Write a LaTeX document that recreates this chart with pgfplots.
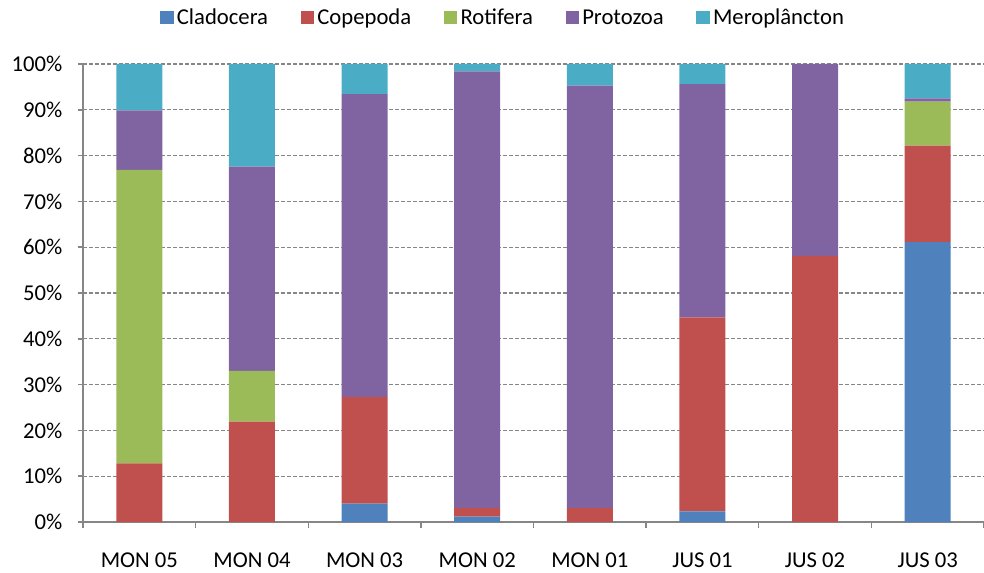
\documentclass[border=0pt]{standalone}
\usepackage{pgfplots}
\pgfplotsset{compat=1.18}
\usepackage{fontspec}
\setmainfont{Carlito}
\definecolor{cClad}{HTML}{4F81BD}
\definecolor{cCope}{HTML}{C0504D}
\definecolor{cRot}{HTML}{9BBB59}
\definecolor{cProt}{HTML}{8064A2}
\definecolor{cMero}{HTML}{4BACC6}
\definecolor{axgray}{HTML}{868686}
\begin{document}
\begin{tikzpicture}[font=\fontsize{17}{20}\selectfont]
\begin{axis}[
  scale only axis, width=675.75pt, height=343.5pt,
  ybar stacked, bar width=34.5pt,
  xmin=-0.5, xmax=7.5, ymin=0, ymax=100,
  axis lines=left,
  axis line style={-, draw=axgray, line width=1.1pt},
  xtick={0,...,7},
  xticklabels={MON 05,MON 04,MON 03,MON 02,MON 01,JUS 01,JUS 02,JUS 03},
  major x tick style={draw=none},
  minor xtick={-0.5,0.5,...,7.5},
  minor x tick style={draw=axgray, line width=1.1pt},
  minor tick length=4.5pt,
  xticklabel style={anchor=center, yshift=-25pt},
  ytick={0,10,...,100},
  yticklabels={0\%,10\%,20\%,30\%,40\%,50\%,60\%,70\%,80\%,90\%,100\%},
  y tick style={draw=axgray, line width=1.1pt},
  major tick length=4pt,
  tick align=outside,
  yticklabel style={anchor=east, xshift=-8pt},
  ymajorgrids,
  major grid style={draw=axgray, line width=1pt, dash pattern=on 3pt off 1.5pt},
  legend columns=-1,
  legend style={at={(rel axis cs:0.467,1)}, anchor=center, yshift=34.5pt, draw=none, fill=none,
    /tikz/every even column/.append style={column sep=22pt},
    nodes={inner sep=2.5pt}},
  legend image code/.code={\fill[#1] (-2pt,-4.5pt) rectangle (8pt,5.5pt);},
  every axis plot/.append style={draw=none},
]
\addplot[fill=cClad] coordinates {(0,0) (1,0) (2,4.0) (3,1.2) (4,0) (5,2.3) (6,0) (7,61.1)};
\addplot[fill=cCope] coordinates {(0,12.8) (1,21.9) (2,23.3) (3,1.9) (4,3.1) (5,42.4) (6,58.1) (7,21.1)};
\addplot[fill=cRot] coordinates {(0,64.1) (1,11.1) (2,0) (3,0) (4,0) (5,0) (6,0) (7,9.6)};
\addplot[fill=cProt] coordinates {(0,13.0) (1,44.6) (2,66.1) (3,95.3) (4,92.2) (5,50.9) (6,41.9) (7,0.7)};
\addplot[fill=cMero] coordinates {(0,10.1) (1,22.4) (2,6.6) (3,1.6) (4,4.7) (5,4.4) (6,0) (7,7.5)};
\legend{Cladocera,Copepoda,Rotifera,Protozoa,Meroplâncton}
\end{axis}
\path (current axis.south west) ++(-62.25pt,-37.5pt) coordinate (bl);
\path (current axis.north east) ++(0pt,48pt) coordinate (tr);
\pgfresetboundingbox
\useasboundingbox (bl) rectangle (tr);
\end{tikzpicture}
\end{document}
